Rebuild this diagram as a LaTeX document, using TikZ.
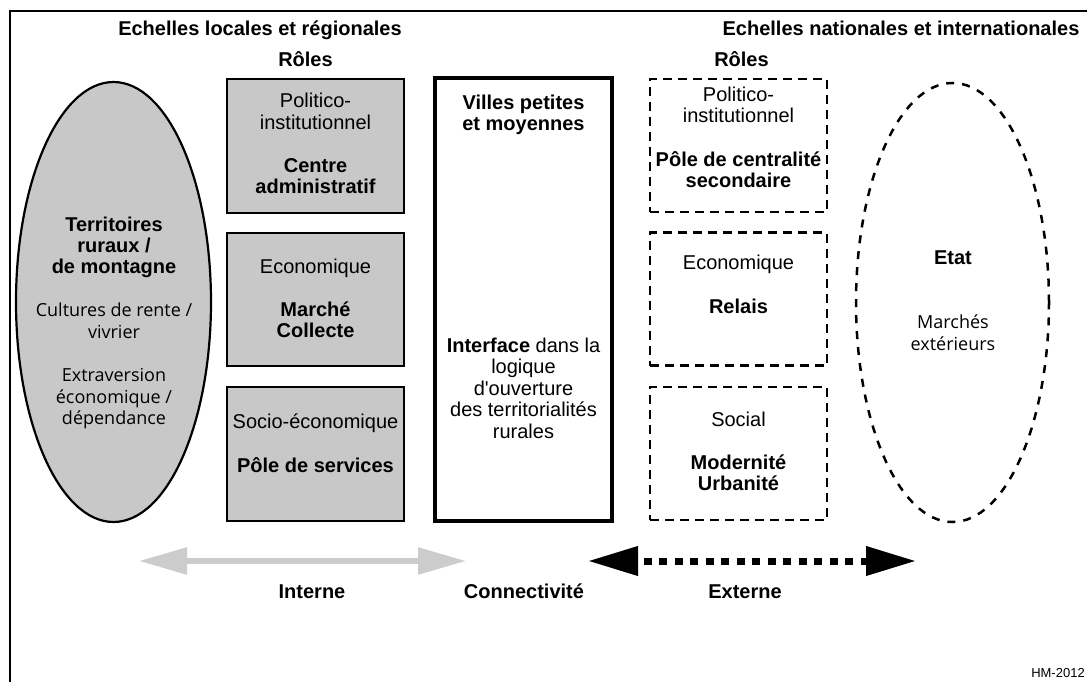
\documentclass[tikz,border=0pt]{standalone}
\usepackage{fontspec}
\setmainfont{Liberation Sans}
\newfontfamily\humfont{Open Sans}
\usetikzlibrary{arrows.meta,shapes.geometric}
\definecolor{boxgray}{RGB}{200,200,200}
\definecolor{arrowgray}{RGB}{204,204,204}
\newcommand\mysz{\fontsize{20}{24}\selectfont}
\begin{document}
\begin{tikzpicture}[x=1pt,y=-1pt,
  txt/.style={inner sep=0pt, anchor=base, font=\mysz},
  btxt/.style={inner sep=0pt, anchor=base, font=\mysz\bfseries},
  htxt/.style={inner sep=0pt, anchor=base, font=\humfont\fontsize{18}{22}\selectfont},
  graybox/.style={draw, line width=2pt, fill=boxgray, minimum width=177pt, minimum height=134pt, inner sep=0pt},
  dashbox/.style={draw, line width=2.5pt, dash pattern=on 9pt off 6pt, minimum width=177pt, minimum height=133pt, inner sep=0pt},
  mainbox/.style={draw, line width=4pt, minimum width=177pt, minimum height=443pt, inner sep=0pt},
  grayell/.style={draw, ellipse, line width=2.2pt, fill=boxgray, minimum width=195pt, minimum height=440pt, inner sep=0pt},
  dashell/.style={draw, ellipse, line width=2.5pt, dash pattern=on 8pt off 8pt, minimum width=193pt, minimum height=439pt, inner sep=0pt},
  grayarrow/.style={draw=arrowgray, line width=5.5pt,
    {Triangle[length=48pt 0, width=26pt 0, fill=arrowgray]}-{Triangle[length=48pt 0, width=26pt 0, fill=arrowgray]}},
  blackarrow/.style={draw=black, line width=7pt, dash pattern=on 8pt off 7.5pt, dash phase=8pt,
    {Triangle[length=50pt 0, width=28pt 0]}-{Triangle[length=50pt 0, width=28pt 0]}},
  frame/.style={line width=2pt}
]
\useasboundingbox (0,0) rectangle (1087,682);

% frame
\coordinate (fa) at (10,682);
\coordinate (fb) at (10,11);
\coordinate (fc) at (1090,11);
\draw[frame] (fa) -- (fb) -- (fc);

% headers
\node[btxt] (h1) at (260,36) {Echelles locales et régionales};
\node[btxt] (h2) at (901,36) {Echelles nationales et internationales};
\node[btxt] (r1) at (305.5,67) {Rôles};
\node[btxt] (r2) at (741.5,67) {Rôles};

% left ellipse
\node[grayell] (rural) at (113.5,302) {};
\node[btxt] (t1) at (114,231) {Territoires};
\node[btxt] (t2) at (114,252) {ruraux /};
\node[btxt] (t3) at (114,273) {de montagne};
\node[htxt] (t4) at (114,316.5) {Cultures de rente /};
\node[htxt] (t5) at (114,338) {vivrier};
\node[htxt] (t6) at (114,381.5) {Extraversion};
\node[htxt] (t7) at (114,403) {économique /};
\node[htxt] (t8) at (114,424.5) {dépendance};

% left boxes
\node[graybox] (lb1) at (315.5,146) {};
\node[graybox, minimum height=133pt] (lb2) at (315.5,299.5) {};
\node[graybox] (lb3) at (315.5,454) {};
\node[txt] (a1) at (315.5,108) {Politico-};
\node[txt] (a2) at (315.5,129.5) {institutionnel};
\node[btxt] (a3) at (315.5,172.5) {Centre};
\node[btxt] (a4) at (315.5,193.5) {administratif};
\node[txt] (b1) at (315.5,273) {Economique};
\node[btxt] (b2) at (315.5,316) {Marché};
\node[btxt] (b3) at (315.5,337.5) {Collecte};
\node[txt] (c1) at (315.5,428) {Socio-économique};
\node[btxt] (c2) at (315.5,472) {Pôle de services};

% centre box
\node[mainbox] (villes) at (523.5,299.5) {};
\node[btxt] (v1) at (523.5,110) {Villes petites};
\node[btxt] (v2) at (523.5,131) {et moyennes};
\node[txt] (i1) at (523.5,352) {\textbf{Interface} dans la};
\node[txt] (i2) at (523.5,373.5) {logique};
\node[txt] (i3) at (523.5,395) {d\textquotesingle ouverture};
\node[txt] (i4) at (523.5,416.5) {des territorialités};
\node[txt] (i5) at (523.5,438) {rurales};

% right boxes
\node[dashbox] (rb1) at (738.5,145.5) {};
\node[dashbox] (rb2) at (738.5,299) {};
\node[dashbox] (rb3) at (738.5,453.5) {};
\node[txt] (d1) at (738.5,101.5) {Politico-};
\node[txt] (d2) at (738.5,123) {institutionnel};
\node[btxt] (d3) at (738.5,166) {Pôle de centralité};
\node[btxt] (d4) at (738.5,187.5) {secondaire};
\node[txt] (e1) at (738.5,269.5) {Economique};
\node[btxt] (e2) at (738.5,313) {Relais};
\node[txt] (g1) at (738.5,426.5) {Social};
\node[btxt] (g2) at (738.5,469) {Modernité};
\node[btxt] (g3) at (738.5,490.5) {Urbanité};

% right ellipse
\node[dashell] (etat) at (952.5,302.5) {};
\node[btxt] (s1) at (953,264) {Etat};
\node[htxt] (s2) at (953,328.5) {Marchés};
\node[htxt] (s3) at (953,350) {extérieurs};

% arrows
\coordinate (ga1) at (139,561);
\coordinate (ga2) at (466,561);
\draw[grayarrow] (ga1) -- (ga2);
\coordinate (ba1) at (588,561);
\coordinate (ba2) at (916,561);
\draw[blackarrow] (ba1) -- (ba2);

% bottom labels
\node[btxt] (l1) at (312,598) {Interne};
\node[btxt] (l2) at (524,598) {Connectivité};
\node[btxt] (l3) at (745,598) {Externe};
\node[inner sep=0pt, anchor=base, font=\fontsize{13}{15}\selectfont] (hm) at (1058,677) {HM-2012};
\end{tikzpicture}
\end{document}
